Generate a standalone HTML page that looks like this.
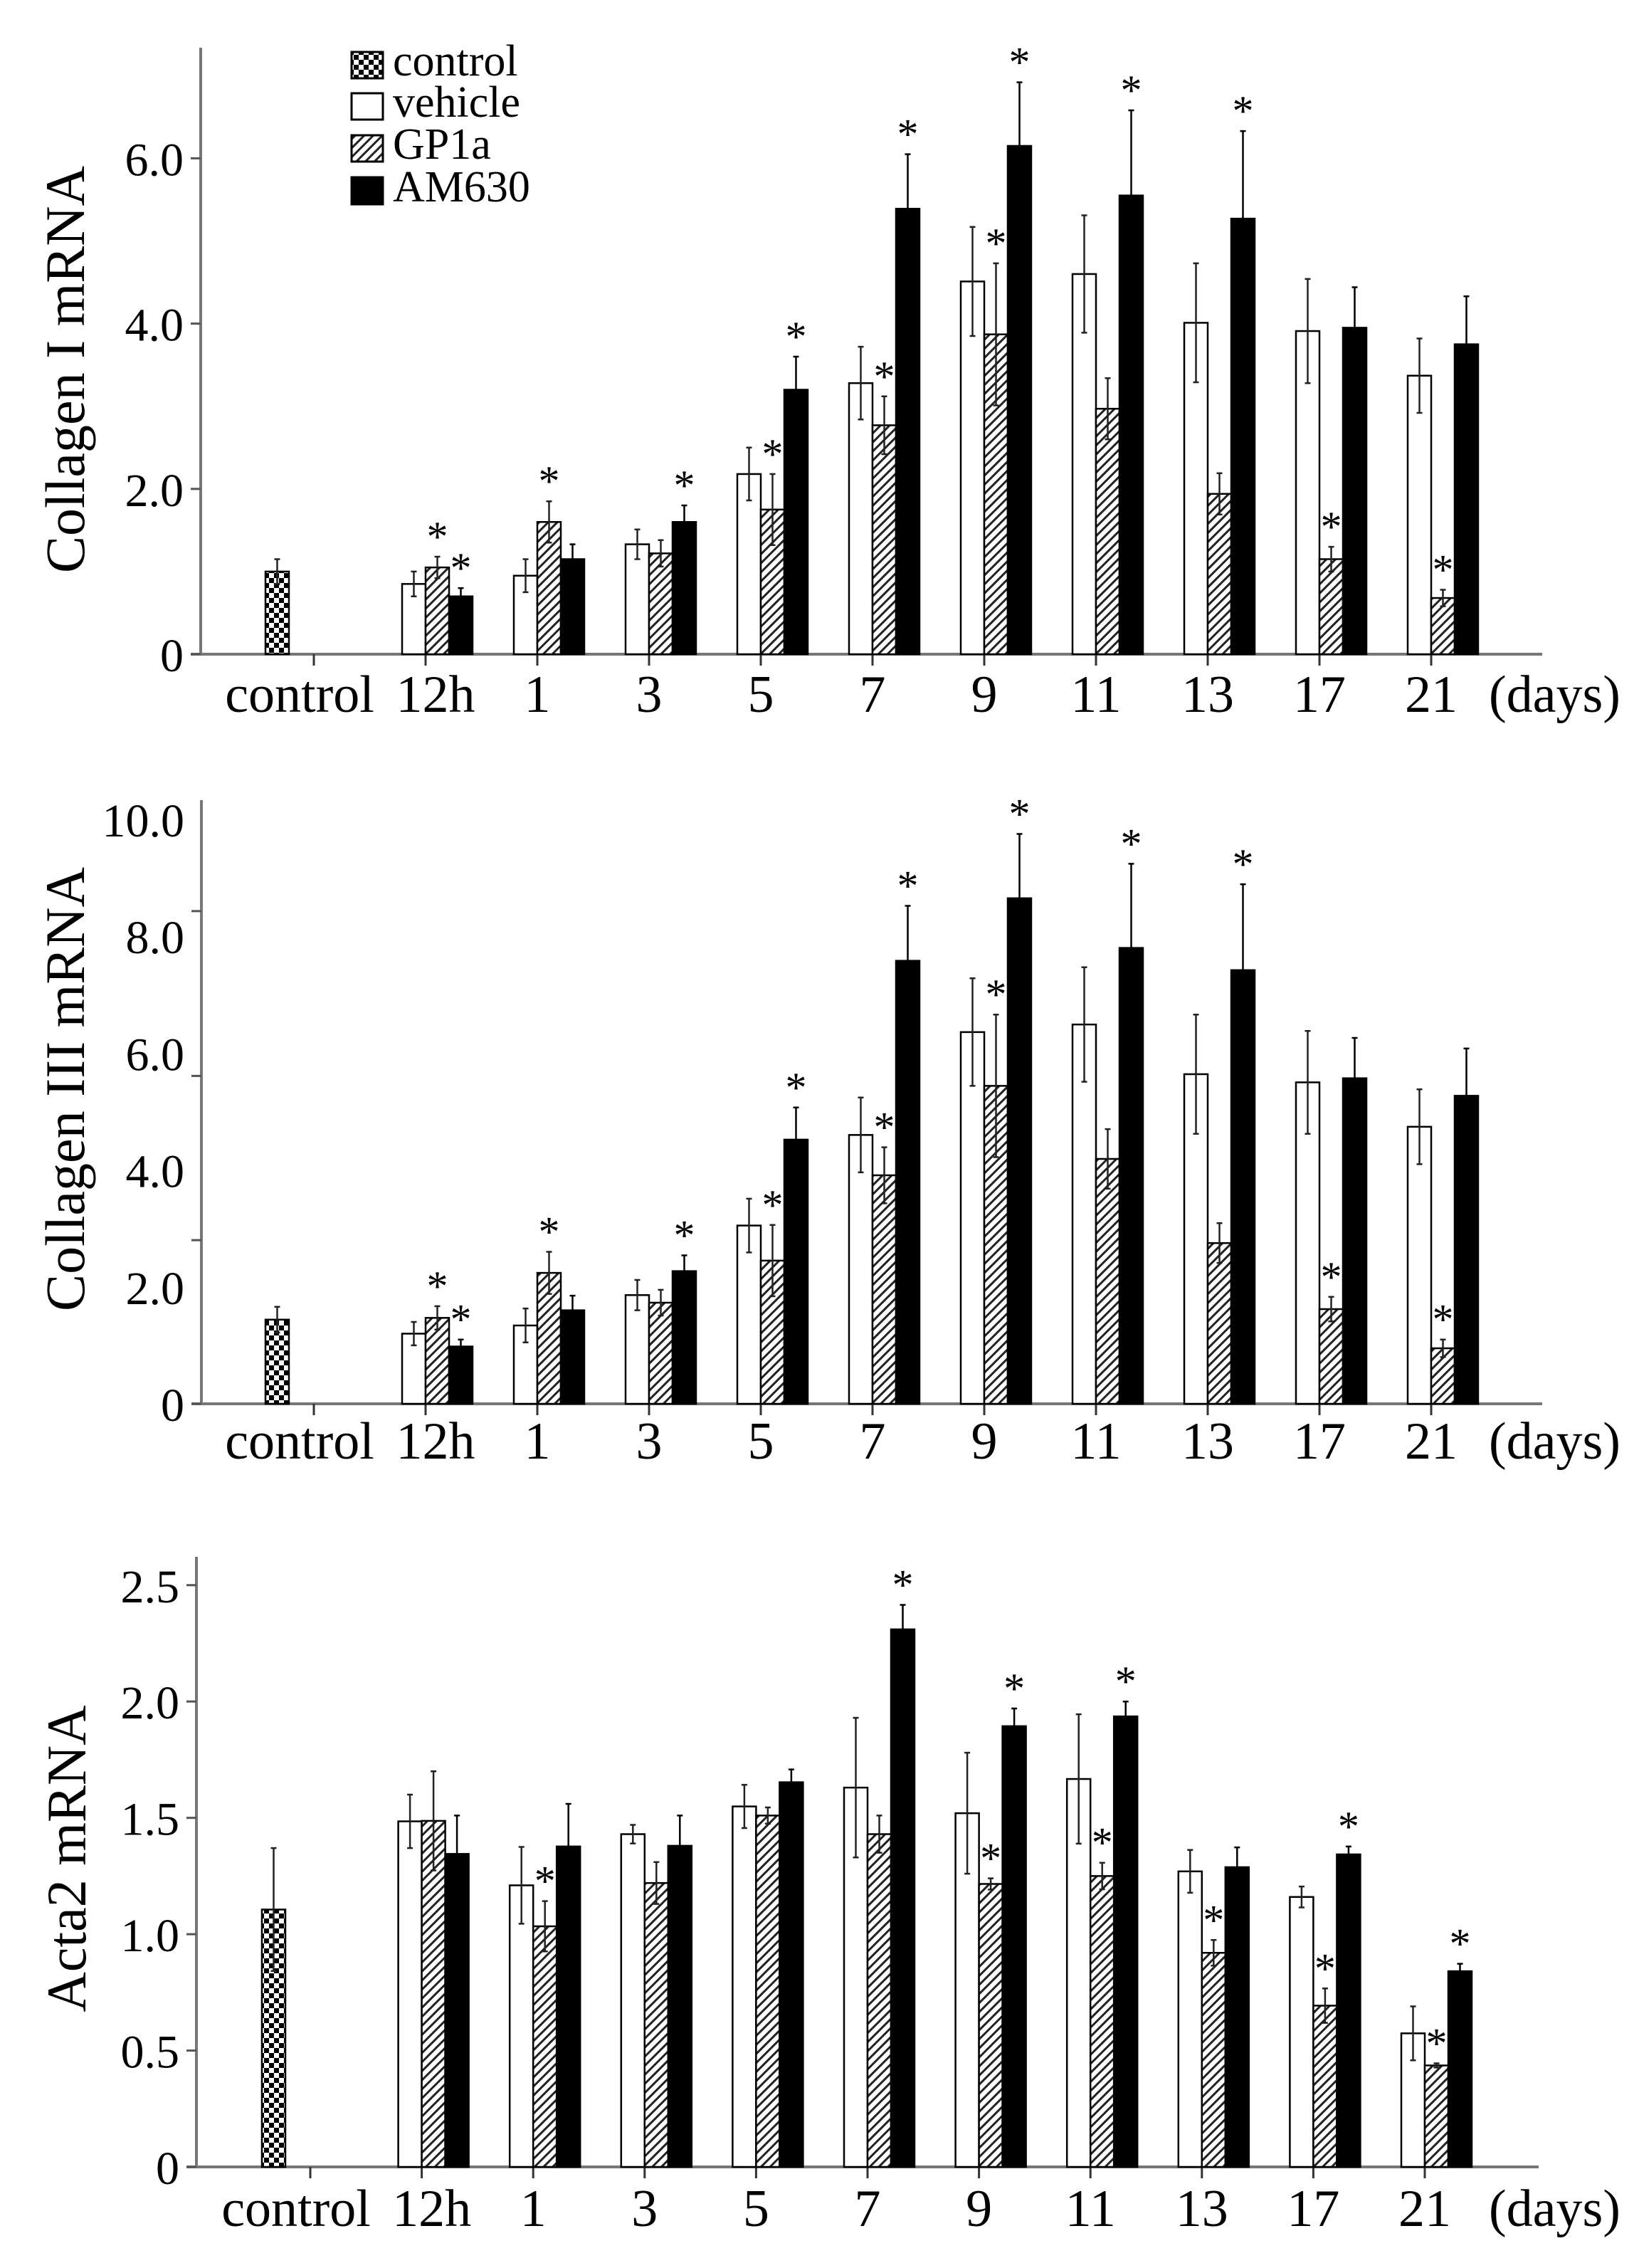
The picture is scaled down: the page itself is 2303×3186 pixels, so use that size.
<!DOCTYPE html>
<html><head><meta charset="utf-8"><style>
html,body{margin:0;padding:0;background:#fff}
svg{display:block}
text{font-family:"Liberation Serif",serif;fill:#000}
</style></head><body>
<svg id="fig" width="2303" height="3186" viewBox="0 0 2303 3186" xmlns="http://www.w3.org/2000/svg">
<defs>
<pattern id="checker" width="14" height="14" patternUnits="userSpaceOnUse">
<rect width="14" height="14" fill="#fff"/><rect width="7" height="7" fill="#000"/><rect x="7" y="7" width="7" height="7" fill="#000"/>
</pattern>
<pattern id="hatch" width="9" height="9" patternUnits="userSpaceOnUse" patternTransform="rotate(45)">
<rect width="9" height="9" fill="#fff"/><rect width="3" height="9" fill="#222"/>
</pattern>
</defs>
<g>
<rect x="494" y="73" width="44" height="37" fill="url(#checker)" stroke="#000" stroke-width="3"/>
<text x="552" y="106" font-size="62">control</text>
<rect x="494" y="131" width="44" height="37" fill="#fff" stroke="#000" stroke-width="3"/>
<text x="552" y="164" font-size="62">vehicle</text>
<rect x="494" y="190" width="44" height="37" fill="url(#hatch)" stroke="#000" stroke-width="3"/>
<text x="552" y="223" font-size="62">GP1a</text>
<rect x="494" y="249" width="44" height="38" fill="#000" stroke="#000" stroke-width="3"/>
<text x="552" y="283" font-size="62">AM630</text>
</g>
</svg>
<script>
const categories = ["12h","1","3","5","7","9","11","13","17","21"];
// Collagen I
const c1Control = 1.0, c1ControlErr = 1.15;
const c1Veh = [0.85,0.95,1.33,2.18,3.28,4.51,4.60,4.01,3.91,3.37];
const c1VehErr = [1.0,1.15,1.51,2.5,3.72,5.17,5.31,4.73,4.54,3.82];
const c1GP = [1.05,1.6,1.22,1.75,2.77,3.87,2.97,1.94,1.15,0.68];
const c1GPErr = [1.18,1.85,1.38,2.18,3.12,4.73,3.34,2.19,1.30,0.78];
const c1AM = [0.7,1.15,1.6,3.2,5.39,6.15,5.55,5.27,3.95,3.75];
const c1AMErr = [0.8,1.33,1.8,3.6,6.05,6.92,6.58,6.33,4.44,4.33];
const c1StarGP = [1,1,0,1,1,1,0,0,1,1];
const c1StarAM = [1,0,1,1,1,1,1,1,0,0];
const c1Ticks = [0,2,4,6];
const c1TickLabels = ["0","2.0","4.0","6.0"];
// Collagen III
const c3Control = 1.44, c3ControlErr = 1.66;
const c3Veh = [1.20,1.34,1.86,3.05,4.60,6.36,6.49,5.64,5.50,4.74];
const c3VehErr = [1.40,1.63,2.12,3.51,5.24,7.28,7.47,6.66,6.38,5.38];
const c3GP = [1.47,2.24,1.73,2.45,3.91,5.44,4.19,2.75,1.62,0.95];
const c3GPErr = [1.67,2.60,1.95,3.06,4.39,6.66,4.70,3.09,1.83,1.10];
const c3AM = [0.98,1.60,2.27,4.52,7.58,8.65,7.80,7.42,5.57,5.27];
const c3AMErr = [1.10,1.85,2.54,5.07,8.52,9.75,9.24,8.89,6.26,6.08];
const c3StarGP = [1,1,0,1,1,1,0,0,1,1];
const c3StarAM = [1,0,1,1,1,1,1,1,0,0];
const c3TickMarks = [0,2.8,5.61,8.43];
const c3LabelVals = [0,2,4,6,8,10];
const c3TickLabels = ["0","2.0","4.0","6.0","8.0","10.0"];
// Acta2
const a2Control = 1.106, a2ControlErr = 1.37;
const a2Veh = [1.485,1.21,1.43,1.549,1.63,1.52,1.667,1.27,1.16,0.574];
const a2VehErr = [1.60,1.375,1.47,1.642,1.93,1.78,1.945,1.362,1.205,0.69];
const a2GP = [1.487,1.034,1.22,1.51,1.43,1.216,1.25,0.92,0.693,0.436];
const a2GPErr = [1.70,1.142,1.31,1.545,1.51,1.24,1.307,0.975,0.767,0.445];
const a2AM = [1.345,1.377,1.38,1.653,2.31,1.894,1.936,1.288,1.343,0.841];
const a2AMErr = [1.51,1.56,1.51,1.708,2.415,1.97,2.0,1.373,1.377,0.873];
const a2StarGP = [0,1,0,0,0,1,1,1,1,1];
const a2StarAM = [0,0,0,0,1,1,1,0,1,1];
const a2Ticks = [0,0.5,1,1.5,2,2.5];
const a2TickLabels = ["0","0.5","1.0","1.5","2.0","2.5"];

const NS = "http://www.w3.org/2000/svg";
const svg = document.getElementById('fig');
function mk(tag, attrs, parent){const e=document.createElementNS(NS,tag);for(const k in attrs)e.setAttribute(k,attrs[k]);(parent||svg).appendChild(e);return e;}

function drawPanel(p){
  const g = mk('g',{});
  
  
  const y = v => p.base - v*p.unit;
  const xTick = i => p.x0 + p.step*i;
  const BW = 33;
  const ya = mk('line',{x1:p.axisX,y1:p.top,x2:p.axisX,y2:p.base+2,stroke:'#777','stroke-width':4},g);
  
  
  const xa = mk('line',{x1:p.axisX-14,y1:p.base,x2:p.axisEnd,y2:p.base,stroke:'#777','stroke-width':4},g);
  
  
  p.tickMarks.forEach(v=>{
    const t = mk('line',{x1:p.axisX-14,y1:y(v),x2:p.axisX,y2:y(v),stroke:'#555','stroke-width':3},g);
    
    
  });
  p.labelVals.forEach((v,i)=>{
    const t = mk('text',{x:p.axisX-24,y:y(v)+24,'font-size':66,'text-anchor':'end'},g);
    t.textContent = p.labels[i];
    
    
  });
  const tt = mk('text',{x:0,y:0,'font-size':78,'text-anchor':'middle',transform:`translate(${p.titleX},${p.titleY}) rotate(-90)`},g);
  tt.textContent = p.title;
  
  
  const allLabels = ['control'].concat(categories);
  allLabels.forEach((c,i)=>{
    const xt = xTick(i);
    const tm = mk('line',{x1:xt,y1:p.base,x2:xt,y2:p.base+16,stroke:'#333','stroke-width':3},g);
    
    
    const lx = i===0 ? xt-20 : (i===1 ? xt+14 : xt);
    const lb = mk('text',{x:lx,y:p.labelY,'font-size':74,'text-anchor':'middle'},g);
    lb.textContent = c;
    
    
  });
  const dl = mk('text',{x:2092,y:p.labelY,'font-size':74},g);
  dl.textContent = '(days)';
  
  

  function bar(left, v, e, fill, star, nm){
    const r = mk('rect',{x:left,y:y(v),width:BW,height:p.base-y(v),fill:fill,stroke:'#000','stroke-width':2.5},g);
    
    
    const cx = left + BW/2;
    const lo = v - (e - v);
    const col = fill==='#000' ? '#000' : '#222';
    const eb = mk('path',{d:`M${cx},${y(lo)}V${y(e)}M${cx-4},${y(e)}H${cx+4}M${cx-4},${y(lo)}H${cx+4}`,stroke:col,'stroke-width':2.5,fill:'none'},g);
    
    
    if(star){
      const s = mk('text',{x:cx,y:y(e)-8,'font-size':60,'text-anchor':'middle'},g);
      s.textContent = '*';
      
      
    }
  }
  bar(xTick(0)-68, p.ctrl, p.ctrlErr, 'url(#checker)', false, 'bar-control');
  categories.forEach((c,i)=>{
    const xt = xTick(i+1);
    bar(xt-BW, p.veh[i], p.vehErr[i], '#fff', false, 'bar-vehicle-'+c);
    bar(xt, p.gp[i], p.gpErr[i], 'url(#hatch)', p.starGP[i], 'bar-gp1a-'+c);
    bar(xt+BW, p.am[i], p.amErr[i], '#000', p.starAM[i], 'bar-am630-'+c);
  });
}

drawPanel({name:'collagen-i-chart',base:919,unit:116.1,top:67,axisX:282,axisEnd:2167,x0:441,step:157,labelY:1000,
  titleX:118,titleY:519,title:'Collagen I mRNA',tickMarks:c1Ticks,labelVals:c1Ticks,labels:c1TickLabels,
  ctrl:c1Control,ctrlErr:c1ControlErr,veh:c1Veh,vehErr:c1VehErr,gp:c1GP,gpErr:c1GPErr,am:c1AM,amErr:c1AMErr,starGP:c1StarGP,starAM:c1StarAM});
drawPanel({name:'collagen-iii-chart',base:1972,unit:82.1,top:1124,axisX:283,axisEnd:2167,x0:441,step:157,labelY:2049,
  titleX:118,titleY:1530,title:'Collagen III mRNA',tickMarks:c3TickMarks,labelVals:c3LabelVals,labels:c3TickLabels,
  ctrl:c3Control,ctrlErr:c3ControlErr,veh:c3Veh,vehErr:c3VehErr,gp:c3GP,gpErr:c3GPErr,am:c3AM,amErr:c3AMErr,starGP:c3StarGP,starAM:c3StarAM});
drawPanel({name:'acta2-chart',base:3044,unit:326.9,top:2187,axisX:276,axisEnd:2162,x0:436,step:156.6,labelY:3127,
  titleX:120,titleY:2611,title:'Acta2 mRNA',tickMarks:a2Ticks,labelVals:a2Ticks,labels:a2TickLabels,
  ctrl:a2Control,ctrlErr:a2ControlErr,veh:a2Veh,vehErr:a2VehErr,gp:a2GP,gpErr:a2GPErr,am:a2AM,amErr:a2AMErr,starGP:a2StarGP,starAM:a2StarAM});
</script>
</body></html>
